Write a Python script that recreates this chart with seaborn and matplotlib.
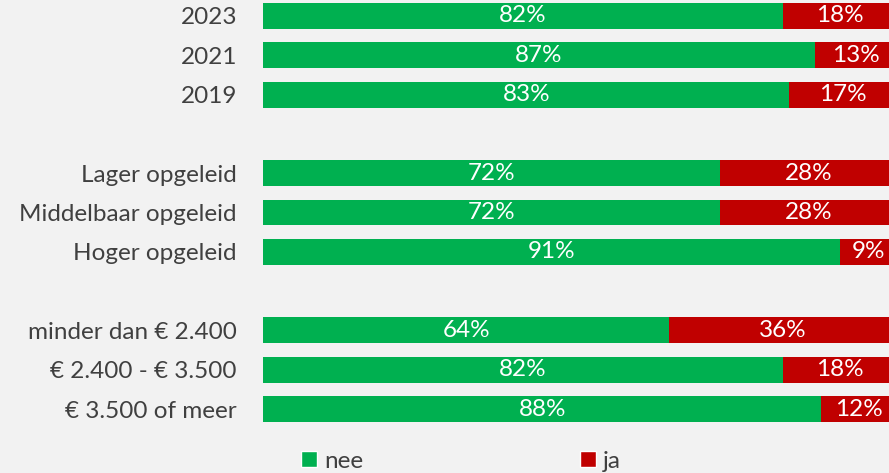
import matplotlib
matplotlib.use("Agg")
import matplotlib.pyplot as plt
from matplotlib.patches import Patch
import seaborn as sns
import pandas as pd

# Survey answers per group (percent)
categories = ["2023", "2021", "2019",
              "Lager opgeleid", "Middelbaar opgeleid", "Hoger opgeleid",
              "minder dan € 2.400", "€ 2.400 - € 3.500", "€ 3.500 of meer"]
nee = [82, 87, 83, 72, 72, 91, 64, 82, 88]
ja = [18, 13, 17, 28, 28, 9, 36, 18, 12]

# Row order with blank spacer rows between the groups
order = categories[:3] + [" "] + categories[3:6] + ["  "] + categories[6:]

GREEN = "#00B050"
RED = "#C00000"
BG = "#F2F2F2"
TEXT = "#404040"
FONT = "Lato"
FS = 17.5

sns.set_theme(style="white")
plt.rcParams["font.family"] = [FONT, "DejaVu Sans"]

df = pd.DataFrame({"categorie": categories, "nee": nee, "ja": ja})
df["totaal"] = df["nee"] + df["ja"]

W, H = 889, 473
fig = plt.figure(figsize=(W / 100, H / 100), dpi=100, facecolor=BG)
ax = fig.add_axes([263.3 / W, 1 - 430 / H, (897 - 263.3) / W, 430 / H])
ax.set_facecolor(BG)

sns.barplot(data=df, y="categorie", x="totaal", order=order, color=RED,
            width=0.66, orient="h", ax=ax, saturation=1, linewidth=0)
sns.barplot(data=df, y="categorie", x="nee", order=order, color=GREEN,
            width=0.66, orient="h", ax=ax, saturation=1, linewidth=0)

ax.set_xlim(0, 100)
ax.set_ylim((430 - 16) / 39.3, -16 / 39.3)
ax.set_xlabel("")
ax.set_ylabel("")
ax.set_xticks([])
for s in ax.spines.values():
    s.set_visible(False)
ax.tick_params(axis="y", length=0, pad=19, labelsize=FS, labelcolor=TEXT)

# Value labels centred in each segment
for _, r in df.iterrows():
    y = order.index(r["categorie"])
    ax.text(r["nee"] / 2, y, f"{r['nee']}%", ha="center", va="center",
            color="white", fontsize=FS)
    ax.text(r["nee"] + r["ja"] / 2, y, f"{r['ja']}%", ha="center", va="center",
            color="white", fontsize=FS, clip_on=False)

handles = [Patch(facecolor=GREEN, label="nee"), Patch(facecolor=RED, label="ja")]
fig.legend(handles=handles, loc="center", bbox_to_anchor=(461 / W, 1 - 461 / H),
           ncol=2, frameon=False, fontsize=FS, handlelength=0.65, handleheight=0.65,
           handletextpad=0.3, columnspacing=8.9, labelcolor=TEXT)

fig.savefig("out.png", dpi=100, facecolor=BG)
